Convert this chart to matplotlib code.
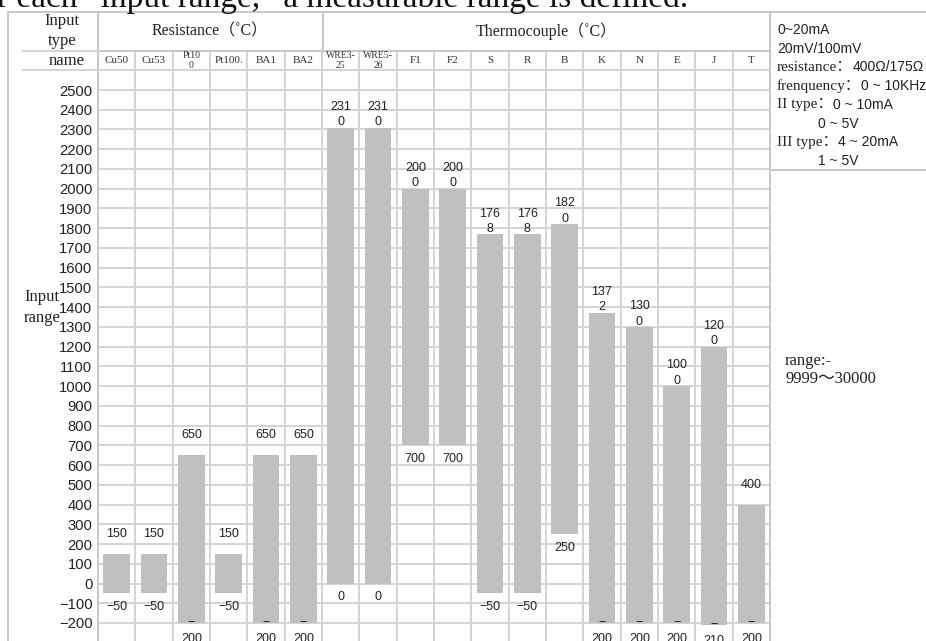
import numpy as np
import matplotlib.pyplot as plt
from matplotlib.lines import Line2D
from matplotlib.ticker import FuncFormatter
from matplotlib.transforms import blended_transform_factory

W, H = 926, 641

# column names as printed in the header row
names = ['Cu50', 'Cu53', 'Pt10\n0', 'Pt100.', 'BA1', 'BA2', 'WRE3-\n25', 'WRE5-\n26',
         'F1', 'F2', 'S', 'R', 'B', 'K', 'N', 'E', 'J', 'T']
upper = [150, 150, 650, 150, 650, 650, 2310, 2310, 2000, 2000, 1768, 1768, 1820,
         1372, 1300, 1000, 1200, 400]
lower = [-50, -50, -200, -50, -200, -200, 0, 0, 700, 700, -50, -50, 250,
         -200, -200, -200, -210, -200]
groups = ['Resistance（˚C）', 'Thermocouple（˚C）']
group_sizes = [6, 12]
yticks = list(range(-200, 2700, 100))

title = 'r each \u201cinput range,\u201d a measurable range is defined.'
notes = [
    [('0~20mA', 'sans')],
    [('20mV/100mV', 'sans')],
    [('resistance：', 'serif'), ('400Ω/175Ω', 'sans')],
    [('frenquency：', 'serif'), ('0 ~ 10KHz', 'sans')],
    [('II type：', 'serif'), ('0 ~ 10mA', 'sans')],
    [('0 ~ 5V', 'sans')],
    [('III type：', 'serif'), ('4 ~ 20mA', 'sans')],
    [('1 ~ 5V', 'sans')],
]
note_indent = [0, 0, 0, 0, 0, 41, 0, 41]
signal_range = 'range:-\n9999～30000'

SERIF = ['Liberation Serif', 'Noto Sans CJK SC', 'DejaVu Serif']
SANS = ['Liberation Sans', 'Noto Sans CJK SC', 'DejaVu Sans']
FAM = {'serif': SERIF, 'sans': SANS}
GRID = '#d4d4d4'
BORDER = '#c8c8c8'
TXT = '#222222'

PX100 = 19.74          # pixels per 100 units
Y2500 = 90.0           # pixel row of the 2500 gridline
ytop = 2700
top_px = Y2500 - (ytop - 2500) / 100 * PX100
ybot = ytop - (H - top_px) / PX100 * 100


def fx(x):
    return x / W


def fy(y):
    return 1 - y / H


def hline(fig, y, x0, x1, c=BORDER):
    fig.add_artist(Line2D([fx(x0), fx(x1)], [fy(y), fy(y)], color=c, lw=1.4))


def vline(fig, x, y0, y1, c=BORDER):
    fig.add_artist(Line2D([fx(x), fx(x)], [fy(y0), fy(y1)], color=c, lw=1.4))


def wrap(v):
    s = str(abs(v))
    if v < 0:
        return '\u2212' + s if len(s) < 3 else '\u2212\n' + s
    return s if len(s) <= 3 else s[:3] + '\n' + s[3:]


fig = plt.figure(figsize=(W / 100, H / 100), dpi=100)
ax = fig.add_axes([fx(98), 0, fx(770) - fx(98), (H - top_px) / H])

x = np.arange(len(names))
ax.bar(x, np.array(upper) - np.array(lower), bottom=lower, width=0.72,
       color='#c0c0c0', zorder=2)

ax.set_xlim(-0.5, len(names) - 0.5)
ax.set_ylim(ybot, ytop)
ax.set_xticks(np.arange(len(names) + 1) - 0.5)
ax.set_yticks(yticks)
ax.yaxis.set_major_formatter(FuncFormatter(
    lambda v, p: '' if v > 2500 else f'{v:.0f}'.replace('-', '\u2212')))
ax.tick_params(length=0, labelbottom=False, pad=4, labelsize=10.6, labelcolor=TXT)
for lab in ax.get_yticklabels():
    lab.set_family(SANS)
ax.grid(True, color=GRID, lw=1.4)
ax.set_axisbelow(True)
for side in ['left', 'right', 'top']:
    ax.spines[side].set_color(BORDER)
    ax.spines[side].set_linewidth(1.4)
ax.spines['bottom'].set_visible(False)

# value labels
k = 0.72
for i in range(len(names)):
    t = wrap(upper[i])
    off = -13 if '\n' in t else -20
    ax.annotate(t, (i, upper[i]), xytext=(0, -off * k), textcoords='offset points',
                ha='center', va='center', fontsize=9, family=SANS, color=TXT,
                linespacing=1.4, annotation_clip=False)
    b = wrap(lower[i])
    off = 8 if '\n' in b else 14
    ax.annotate(b, (i, lower[i]), xytext=(0, -off * k), textcoords='offset points',
                ha='center', va='center', fontsize=9, family=SANS, color=TXT,
                linespacing=1.4, annotation_clip=False)

# header: names row and groups
trans = blended_transform_factory(ax.transData, fig.transFigure)
for i, n in enumerate(names):
    ax.text(i, fy(60.5), n, transform=trans, ha='center', va='center',
            fontsize=7 if '\n' in n else 8, family=SERIF, color='#333333',
            linespacing=1.0, clip_on=False)
start = 0
for g, n in zip(groups, group_sizes):
    ax.text(start + n / 2 - 0.5, fy(31), g, transform=trans, ha='center',
            va='center', fontsize=11.5, family=SERIF, color=TXT, clip_on=False)
    start += n

fig.text(fx(62), fy(21), 'Input', ha='center', va='center', fontsize=12,
         family=SERIF, color=TXT)
fig.text(fx(62), fy(41), 'type', ha='center', va='center', fontsize=12,
         family=SERIF, color=TXT)
fig.text(fx(67), fy(61), 'name', ha='center', va='center', fontsize=12,
         family=SERIF, color=TXT)
fig.text(fx(42), fy(297), 'Input', ha='center', va='center', fontsize=12,
         family=SERIF, color=TXT)
fig.text(fx(42), fy(318), 'range', ha='center', va='center', fontsize=12,
         family=SERIF, color=TXT)

# cut-off title line
fig.text(fx(-3), fy(7), title, ha='left', va='baseline', fontsize=24,
         family=SERIF, color='#111111')

# table borders outside the axes
hline(fig, 12, 8, W)
vline(fig, 8, 12, H)
for xx in [98, 323, 770]:
    vline(fig, xx, 12, top_px)
hline(fig, 70, 23, 98, GRID)
hline(fig, top_px, 23, 98, GRID)
hline(fig, 170, 770, W)

# notes column
renderer = fig.canvas.get_renderer()
for j, line in enumerate(notes):
    xp = 777 + note_indent[j]
    yp = 30 + j * 18.7
    for s, f in line:
        t = fig.text(fx(xp), fy(yp), s, ha='left', va='center',
                     fontsize=11 if f == 'serif' else 10, family=FAM[f], color=TXT)
        xp = t.get_window_extent(renderer).x1
fig.text(fx(785), fy(370), signal_range, ha='left', va='center', fontsize=12,
         family=SERIF, color=TXT, linespacing=1.2)

fig.savefig('out.png', dpi=100)
